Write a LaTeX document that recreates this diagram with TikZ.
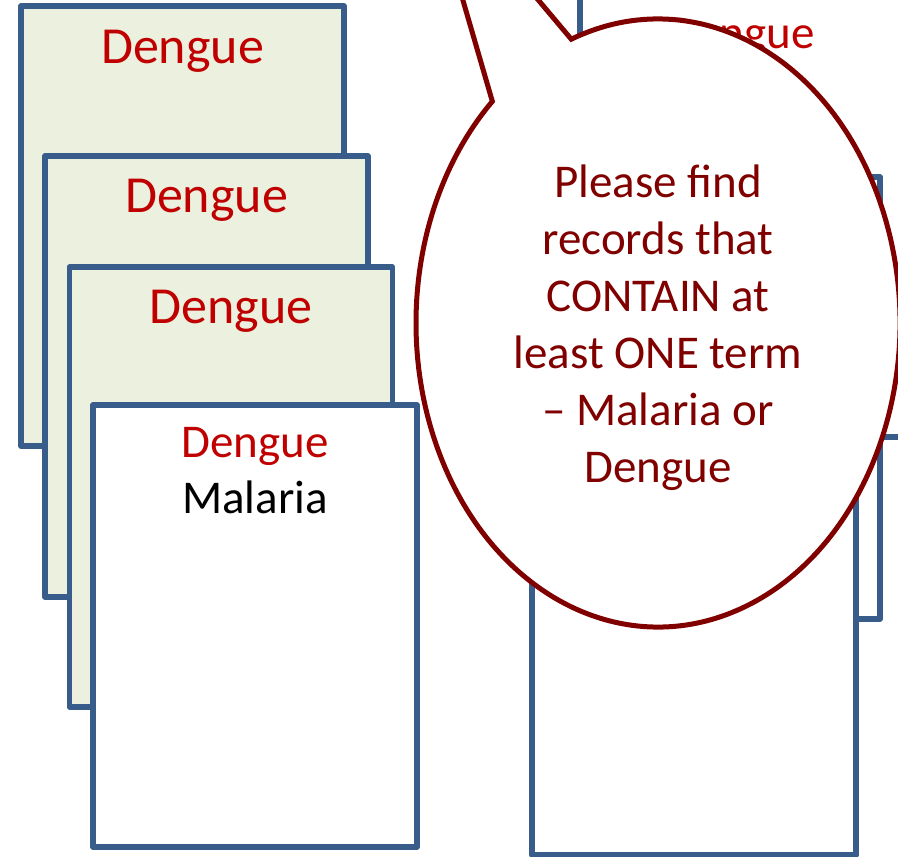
\documentclass[tikz,border=0pt]{standalone}
\usepackage{fontspec}
\setmainfont{Carlito}
\usetikzlibrary{calc}
\definecolor{cardblue}{HTML}{385D8A}
\definecolor{cardfill}{HTML}{EBF1DE}
\definecolor{termred}{HTML}{C00000}
\definecolor{bubblered}{HTML}{800000}
\begin{document}
\begin{tikzpicture}[x=1pt,y=1pt,
  card/.style={draw=cardblue, line width=5.5pt, line join=round, fill=white,
    minimum width=323pt, minimum height=440pt, inner sep=0pt, outer sep=0pt},
  greencard/.style={card, fill=cardfill},
  bigterm/.style={font=\fontsize{52}{63}\selectfont, text=termred, anchor=base, inner sep=0pt},
  smallterm/.style={font=\fontsize{47}{57}\selectfont, anchor=base, inner sep=0pt},
  callout/.style={draw=bubblered, line width=5pt, fill=white, line join=miter},
  callouttext/.style={font=\fontsize{47}{57}\selectfont, text=bubblered, align=center,
    anchor=base, inner sep=0pt}]
\useasboundingbox (0,0) rectangle (898,-857);
\clip (0,0) rectangle (898,-857);

% right-hand stack of records (back to front)
\node[card, minimum width=322pt, minimum height=441pt] (r1) at (741,-216.5) {};
\node[smallterm, text=termred] (r1t) at ($(r1.north)+(0,-52)$) {Dengue};
\node[card, minimum height=442pt] (r2) at (718.5,-398) {};
\node[card, minimum width=324pt, minimum height=442pt] (r3) at (694,-634) {};

% left-hand stack of records (back to front)
\node[greencard] (c1) at (182.5,-226) {};
\node[bigterm] (c1t) at ($(c1.north)+(0,-57)$) {Dengue};
\node[greencard, minimum height=441pt] (c2) at (206.5,-376.5) {};
\node[bigterm] (c2t) at ($(c2.north)+(0,-56)$) {Dengue};
\node[greencard] (c3) at (231,-487) {};
\node[bigterm] (c3t) at ($(c3.north)+(0,-56)$) {Dengue};
\node[card, minimum width=324pt, minimum height=442pt] (c4) at (255,-626) {};
\node[smallterm, text=termred] (c4a) at ($(c4.north)+(0,-52)$) {Dengue};
\node[smallterm, text=black] (c4b) at ($(c4.north)+(0,-108)$) {Malaria};

% speech bubble: ellipse with a wedge tail pointing up-left
\coordinate (bc) at (658,-323);
\coordinate (tip) at (423,137);
\draw[callout] ($(bc)+(133.2:242 and 304)$) coordinate (wa) -- (tip)
  -- ($(bc)+(111:242 and 304)$) coordinate (wb)
  arc[start angle=111, end angle=-226.8, x radius=242, y radius=304] -- cycle;
% the anchor sits on the baseline of the last line
\node[callouttext] (msg) at (658,-482)
  {Please find\\records that\\CONTAIN at\\least ONE term\\– Malaria or\\Dengue};
\end{tikzpicture}
\end{document}
